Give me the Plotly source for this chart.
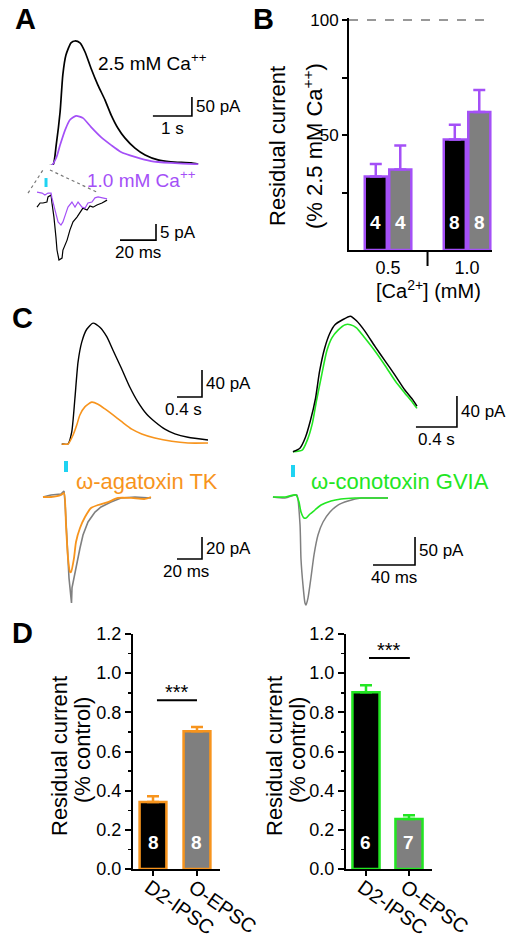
import plotly.graph_objects as go

W, H = 523, 943
FONT = "Liberation Sans, Arial, Helvetica, sans-serif"

BLACK = "#000000"
GREY = "#808080"
BAR_GREY = "#7f7f7f"
PURPLE = "#A450F7"
ORANGE = "#F7941D"
GREEN = "#22E622"
CYAN = "#1FD3F2"

# ---------------- data ----------------
# Panel A main traces: time (s), current (pA)
A_t_25 = [-0.15, 0.0, 0.13, 0.21, 0.31, 0.38, 0.46, 0.59, 0.69, 0.82, 0.95, 1.10, 1.28,
          1.46, 1.62, 1.79, 1.97, 2.23, 2.49, 2.82, 3.15, 3.67, 3.85]
A_i_25 = [0, 0, 3, 55, 142, 240, 292, 324, 329, 324, 300, 258, 213,
          174, 134, 100, 74, 47, 29, 16, 11, 8, 5]
A_t_10 = [-0.15, 0.08, 0.21, 0.31, 0.44, 0.56, 0.72, 0.90, 1.10, 1.36, 1.62, 1.87,
          2.23, 2.64, 3.15, 3.77, 3.85]
A_i_10 = [0, 0, 21, 55, 95, 121, 132, 126, 103, 76, 55, 37, 24, 13, 8, 5, 5]

# Panel A inset traces: time (ms), current (pA)
Ai_t_25 = [-6.1, -4.4, -2.8, -0.6, 0, 1.7, 2.2, 3.3, 4.4, 5.0, 6.1, 7.8, 8.3, 10.6, 12.2,
           13.9, 16.1, 17.8, 19.4, 21.7, 23.3, 25.0, 27.2, 30.0, 32.8]
Ai_i_25 = [-1.3, 0, 0, 0.3, 1.9, 2.5, 0, -4.4, -10.6, -14.7, -17.8, -17.2, -14.7, -11.6, -8.4,
           -5.9, -4.4, -3.1, -1.6, -2.2, -0.9, -1.3, -0.6, 0, 0.9]
Ai_t_10 = [-6.1, -3.3, -1.7, 0, 1.7, 2.2, 3.9, 5.6, 7.2, 8.3, 10.0, 11.1, 13.3, 15.0, 16.7,
           18.9, 20.6, 22.2, 24.4, 26.1, 27.8, 30.0, 32.8]
Ai_i_10 = [3.4, 3.1, 2.5, 3.1, 3.1, 1.6, -2.2, -5.9, -6.9, -5.9, -3.1, -1.3, 0.3, -1.3, 0.3,
           -1.3, -1.6, 0, 0.3, 1.6, 1.9, 1.6, 1.3]

# Panel C left, D2-IPSC: time (s), current (pA)
CL_t_ctrl = [-0.10, 0, 0.06, 0.11, 0.16, 0.22, 0.30, 0.40, 0.51, 0.62, 0.72, 0.86, 0.99, 1.12,
             1.26, 1.39, 1.55, 1.71, 1.92, 2.24]
CL_i_ctrl = [0, 0, 18, 67, 121, 151, 170, 179, 173, 159, 139, 111, 84, 62, 44, 33, 22, 15, 10, 6]
CL_t_aga = [-0.10, 0, 0.08, 0.14, 0.19, 0.27, 0.38, 0.48, 0.59, 0.72, 0.86, 1.02, 1.18, 1.39,
            1.66, 1.92, 2.24]
CL_i_aga = [0, 0, 13, 28, 43, 55, 62, 59, 52, 43, 33, 22, 15, 9, 4, 1.5, 1.5]

# Panel C left, O-EPSC: time (ms), current (pA)
CLe_t_ctrl = [-16.8, -10.4, -2.4, 0, 0.8, 2.4, 4.0, 5.6, 6.0, 6.4, 8.0, 9.6, 12.8, 15.2, 19.2,
              24.8, 29.6, 37.6, 45.6, 56.8, 69.6]
CLe_i_ctrl = [-1.8, 0, 0.9, 3.6, -6.4, -42.7, -75.5, -93.6, -98.2, -84.5, -75.5, -63.6, -48.2,
              -36.4, -24.5, -15.5, -10.9, -6.4, -2.7, -1.8, -2.7]
CLe_t_aga = [-16.8, -10.4, -2.4, 0, 1.6, 3.2, 4.8, 5.6, 8.0, 9.6, 12.8, 16.8, 21.6, 27.2, 35.2,
             43.2, 53.6, 64.8, 69.6]
CLe_i_aga = [-1.8, -1.8, 0, 1.8, -27.3, -57.3, -70, -70, -57.3, -42.7, -30, -20, -11.8, -9.1,
             -6.4, -2.7, -2.7, -3.6, -1.8]

# Panel C right, D2-IPSC: time (s), current (pA)
CR_t_ctrl = [-0.02, 0.05, 0.10, 0.15, 0.20, 0.24, 0.29, 0.34, 0.39, 0.46, 0.54, 0.60, 0.68,
             0.78, 0.88, 0.98, 1.07, 1.15, 1.19]
CR_i_ctrl = [-1, 4, 17, 39, 68, 103, 133, 152, 163, 169, 174, 168, 155, 135, 116, 97, 79, 66, 58]
CR_t_cono = [-0.02, 0.07, 0.12, 0.17, 0.21, 0.26, 0.31, 0.36, 0.42, 0.49, 0.54, 0.60, 0.68,
             0.78, 0.88, 0.98, 1.07, 1.15, 1.19]
CR_i_cono = [-1, 1, 14, 36, 65, 98, 129, 146, 156, 163, 163, 159, 146, 129, 110, 90, 75, 62, 55]

# Panel C right, O-EPSC: time (ms), current (pA)
CRe_t_ctrl = [-22.9, -11.4, -1.9, 0, 2.9, 3.8, 5.7, 7.6, 8.6, 10.5, 13.3, 16.2, 20, 24.8, 31.4,
              39, 48.6, 61, 74.3, 86.7]
CRe_i_ctrl = [-1.8, -3.6, 1.8, 1.8, -51.8, -112.5, -158.9, -191, -194.6, -182, -146, -105,
              -69.6, -46.4, -28.6, -16.1, -8.9, -3.6, -3.6, -3.6]
CRe_t_cono = [-22.9, -11.4, -1, 1.9, 3.8, 6.7, 8.6, 12.4, 17.1, 22.9, 32.4, 41.9, 55.2, 67.6, 86.7]
CRe_i_cono = [-1.8, -1.8, 1.8, -10.7, -28.6, -39.3, -39.3, -32.1, -25, -16.1, -8.9, -5.4, -3.6,
              -3.6, -3.6]

# Panel B bars (% of 2.5 mM Ca++)
B_cats = ["0.5", "1.0"]
B_d2 = [32, 48]
B_d2_err = [5.4, 6.5]
B_oe = [35, 60]
B_oe_err = [10.4, 9.6]
B_d2_n = [4, 8]
B_oe_n = [4, 8]

# Panel D bars (fraction of control)
D_cats = ["D2-IPSC", "O-EPSC"]
D_aga = [0.342, 0.704]
D_aga_err = [0.030, 0.021]
D_aga_n = [8, 8]
D_cono = [0.903, 0.255]
D_cono_err = [0.035, 0.020]
D_cono_n = [6, 7]

# ---------------- helpers ----------------
fig = go.Figure()
layout = {}
annotations = []
shapes = []


def px(x):
    return x / W


def py(y):
    return 1 - y / H


def refs(i):
    return ("x" if i == 1 else f"x{i}"), ("y" if i == 1 else f"y{i}")


def akeys(i):
    return ("xaxis" if i == 1 else f"xaxis{i}"), ("yaxis" if i == 1 else f"yaxis{i}")


def trace_axes(i, box, x0px, ppx, y0px, ppy):
    l, r, t, b = box
    xr, yr = refs(i)
    xk, yk = akeys(i)
    layout[xk] = dict(domain=[px(l), px(r)], range=[(l - x0px) / ppx, (r - x0px) / ppx],
                      visible=False, anchor=yr, fixedrange=True, automargin=False)
    layout[yk] = dict(domain=[py(b), py(t)], range=[(y0px - b) / ppy, (y0px - t) / ppy],
                      visible=False, anchor=xr, fixedrange=True, automargin=False)


def add_line(i, x, y, color, width=1.4, shape="spline"):
    xr, yr = refs(i)
    fig.add_trace(go.Scatter(x=x, y=y, mode="lines",
                             line=dict(color=color, width=width, shape=shape, smoothing=0.6),
                             xaxis=xr, yaxis=yr, showlegend=False, hoverinfo="skip"))


def scalebar(i, cx, cy, xlen, ylen, xlab, ylab, xshift_lab=0):
    xr, yr = refs(i)
    fig.add_trace(go.Scatter(x=[cx - xlen, cx, cx], y=[cy, cy, cy + ylen], mode="lines",
                             line=dict(color=BLACK, width=1.6), xaxis=xr, yaxis=yr,
                             showlegend=False, hoverinfo="skip"))
    annotations.append(dict(x=cx, y=cy + ylen / 2, xref=xr, yref=yr, text=ylab,
                            xanchor="left", yanchor="middle", xshift=2, showarrow=False,
                            font=dict(size=17, color=BLACK)))
    annotations.append(dict(x=cx - xlen / 2, y=cy, xref=xr, yref=yr, text=xlab,
                            xanchor="center", yanchor="top", yshift=-1, xshift=xshift_lab,
                            showarrow=False, font=dict(size=17, color=BLACK)))


def stim(i, x, y0, y1, width=4):
    xr, yr = refs(i)
    shapes.append(dict(type="line", xref=xr, yref=yr, x0=x, x1=x, y0=y0, y1=y1,
                       line=dict(color=CYAN, width=width)))


def text_px(x, y, text, size, color=BLACK, angle=0):
    annotations.append(dict(x=px(x), y=py(y), xref="paper", yref="paper", text=text,
                            showarrow=False, xanchor="center", yanchor="middle",
                            textangle=angle, font=dict(size=size, color=color)))


# ---------------- Panel A ----------------
trace_axes(1, (30, 215, 30, 180), 48, 39.0, 166, 0.38)
add_line(1, A_t_25, A_i_25, BLACK, 1.7)
add_line(1, A_t_10, A_i_10, PURPLE, 1.7)
scalebar(1, 3.69, 131.6, 1, 50, "1 s", "50 pA")

trace_axes(2, (25, 200, 165, 265), 48, 1.8, 203, 3.2)
add_line(2, Ai_t_25, Ai_i_25, BLACK, 1.2, "linear")
add_line(2, Ai_t_10, Ai_i_10, PURPLE, 1.2, "linear")
scalebar(2, 60, -11.6, 20, 5, "20 ms", "5 pA")
stim(2, -1.1, 5.0, 7.8, 3)
for (xa, ya, xb, yb) in [(-11.1, 3.1, -2.8, 10.3), (1.1, 10.3, 27.2, 3.4)]:
    shapes.append(dict(type="line", xref="x2", yref="y2", x0=xa, y0=ya, x1=xb, y1=yb,
                       line=dict(color="#777777", width=1.2, dash="dot")))

text_px(152, 62, "2.5 mM Ca<sup>++</sup>", 19)
text_px(141, 179, "1.0 mM Ca<sup>++</sup>", 19, PURPLE)

# ---------------- Panel B ----------------
B_gap = 0.38
layout["xaxis3"] = dict(domain=[px(349), px(492)], range=[-0.494, 1.316], tickvals=[0, 1],
                        ticktext=B_cats, ticks="", showline=True, linewidth=2,
                        linecolor=BLACK, showgrid=False, zeroline=False, anchor="y3",
                        tickfont=dict(size=18, color=BLACK), ticklabelstandoff=0,
                        fixedrange=True, automargin=False)
layout["yaxis3"] = dict(domain=[py(250), py(250 - 101 * 2.3)], range=[0, 101],
                        tickvals=[50, 100], ticks="outside", ticklen=5, tickwidth=2,
                        tickcolor=BLACK,
                        minor=dict(tickvals=[25, 75], ticks="outside", ticklen=5,
                                   tickwidth=2, tickcolor=BLACK),
                        showline=True, linewidth=2, linecolor=BLACK, showgrid=False,
                        zeroline=False, anchor="x3", tickfont=dict(size=17, color=BLACK),
                        fixedrange=True, automargin=False)
fig.add_trace(go.Bar(x=[0, 1], y=B_d2, xaxis="x3", yaxis="y3", showlegend=False,
                     marker=dict(color=BLACK, line=dict(color=PURPLE, width=2.5)),
                     error_y=dict(type="data", symmetric=False, array=B_d2_err,
                                  arrayminus=[0, 0], color=PURPLE, thickness=2.5, width=6)))
fig.add_trace(go.Bar(x=[0, 1], y=B_oe, xaxis="x3", yaxis="y3", showlegend=False,
                     marker=dict(color=BAR_GREY, line=dict(color=PURPLE, width=2.5)),
                     error_y=dict(type="data", symmetric=False, array=B_oe_err,
                                  arrayminus=[0, 0], color=PURPLE, thickness=2.5, width=6)))
off = (1 - B_gap) / 4
for k in range(2):
    for dx, n in [(-off, B_d2_n[k]), (off, B_oe_n[k])]:
        annotations.append(dict(x=k + dx, y=12, xref="x3", yref="y3", text=f"<b>{n}</b>",
                                showarrow=False, font=dict(size=19, color="white")))
shapes.append(dict(type="line", xref="x3 domain", yref="y3", x0=0, x1=0.944, y0=100, y1=100,
                   line=dict(color="#777777", width=1.5, dash="dash")))
shapes.append(dict(type="line", xref="x3", yref="paper", x0=0.5, x1=0.5, y0=py(250),
                   y1=py(266), line=dict(color=BLACK, width=2)))
text_px(278, 146, "Residual current", 22, angle=-90)
text_px(313, 146, "(% 2.5 mM Ca<sup>++</sup>)", 22, angle=-90)
text_px(428, 289, "[Ca<sup>2+</sup>] (mM)", 20)

# ---------------- Panel C ----------------
trace_axes(4, (50, 215, 310, 450), 68, 62.5, 444, 0.675)
add_line(4, CL_t_ctrl, CL_i_ctrl, BLACK, 1.4)
add_line(4, CL_t_aga, CL_i_aga, ORANGE, 1.6)
scalebar(4, 2.144, 69.6, 0.4, 40, "0.4 s", "40 pA", -6)

trace_axes(5, (35, 215, 455, 612), 64, 1.25, 495, 1.1)
add_line(5, CLe_t_ctrl, CLe_i_ctrl, GREY, 1.6, "linear")
add_line(5, CLe_t_aga, CLe_i_aga, ORANGE, 1.8)
scalebar(5, 110.4, -58.2, 20, 20, "20 ms", "20 pA", -4)
stim(5, 1.6, 20.9, 30.9, 4)
text_px(147, 481, "ω-agatoxin TK", 22, ORANGE)

trace_axes(6, (285, 465, 305, 460), 295, 102.5, 451, 0.775)
add_line(6, CR_t_cono, CR_i_cono, GREEN, 1.6)
add_line(6, CR_t_ctrl, CR_i_ctrl, BLACK, 1.5)
scalebar(6, 1.58, 31, 0.4, 40, "0.4 s", "40 pA")

trace_axes(7, (265, 420, 455, 612), 297, 1.05, 496, 0.56)
add_line(7, CRe_t_ctrl, CRe_i_ctrl, GREY, 1.5)
add_line(7, CRe_t_cono, CRe_i_cono, GREEN, 1.6)
scalebar(7, 112.4, -123.2, 40, 50, "40 ms", "50 pA")
stim(7, -3.8, 33.9, 55.4, 4)
text_px(400, 481, "ω-conotoxin GVIA", 22, GREEN)


# ---------------- Panel D ----------------
def d_axes(i, left, right, xr_range):
    xk, yk = akeys(i)
    xr, yr = refs(i)
    layout[xk] = dict(domain=[px(left), px(right)], range=xr_range, tickvals=[0, 1],
                      ticktext=D_cats, ticks="outside", ticklen=5, tickwidth=2,
                      tickcolor=BLACK, tickangle=35, showline=True, linewidth=2,
                      linecolor=BLACK, showgrid=False, zeroline=False, anchor=yr,
                      ticklabelstandoff=-8, ticklabelshift=-4,
                      tickfont=dict(size=20, color=BLACK), fixedrange=True, automargin=False)
    layout[yk] = dict(domain=[py(869), py(634)], range=[0, 1.2], dtick=0.2, tickformat=".1f",
                      ticks="outside", ticklen=6, tickwidth=2, tickcolor=BLACK,
                      minor=dict(dtick=0.1, ticks="outside", ticklen=3, tickwidth=1.5,
                                 tickcolor=BLACK),
                      showline=True, linewidth=2, linecolor=BLACK, showgrid=False,
                      zeroline=False, anchor=xr, tickfont=dict(size=18, color=BLACK),
                      fixedrange=True, automargin=False)


def d_bars(i, vals, errs, ns, color, width):
    xr, yr = refs(i)
    fig.add_trace(go.Bar(x=[0, 1], y=vals, width=width, xaxis=xr, yaxis=yr, showlegend=False,
                         marker=dict(color=[BLACK, BAR_GREY], line=dict(color=color, width=2.5)),
                         error_y=dict(type="data", symmetric=False, array=errs,
                                      arrayminus=[0, 0], color=color, thickness=2.5, width=6)))
    for k, n in enumerate(ns):
        annotations.append(dict(x=k, y=0.133, xref=xr, yref=yr, text=f"<b>{n}</b>",
                                showarrow=False, font=dict(size=19, color="white")))


def sig(i, x0, x1, y):
    xr, yr = refs(i)
    shapes.append(dict(type="line", xref=xr, yref=yr, x0=x0, x1=x1, y0=y, y1=y,
                       line=dict(color=BLACK, width=2)))
    annotations.append(dict(x=(x0 + x1) / 2, y=y, xref=xr, yref=yr, text="***",
                            yanchor="bottom", showarrow=False, yshift=-5,
                            font=dict(size=20, color=BLACK)))


d_axes(8, 133, 220, [-0.4545, 1.523])
d_bars(8, D_aga, D_aga_err, D_aga_n, ORANGE, 0.61)
sig(8, 0.09, 1.0, 0.862)
text_px(59, 756, "Residual current", 22, angle=-90)
text_px(82, 750, "(% control)", 22, angle=-90)

d_axes(9, 346, 432, [-0.465, 1.535])
d_bars(9, D_cono, D_cono_err, D_cono_n, GREEN, 0.63)
sig(9, 0.07, 1.02, 1.077)
text_px(274, 756, "Residual current", 22, angle=-90)
text_px(297, 750, "(% control)", 22, angle=-90)

# ---------------- panel letters ----------------
for letter, (x, y) in {"A": (25, 19), "B": (263, 19), "C": (22, 318), "D": (22, 633)}.items():
    annotations.append(dict(x=px(x), y=py(y), xref="paper", yref="paper",
                            text=f"<b>{letter}</b>", showarrow=False, xanchor="center",
                            yanchor="middle", font=dict(size=29, color=BLACK)))

fig.update_layout(**layout)
fig.update_layout(width=W, height=H,
                  margin=dict(l=0, r=0, t=0, b=0, pad=0, autoexpand=False),
                  paper_bgcolor="white", plot_bgcolor="white",
                  font=dict(family=FONT, color=BLACK),
                  barmode="group", bargap=B_gap, bargroupgap=0.1,
                  annotations=annotations, shapes=shapes, showlegend=False)
fig.write_html("out.html", config={"displayModeBar": False, "staticPlot": True},
               post_script="document.body.style.margin='0px';"
                           "document.body.style.overflow='hidden';")
